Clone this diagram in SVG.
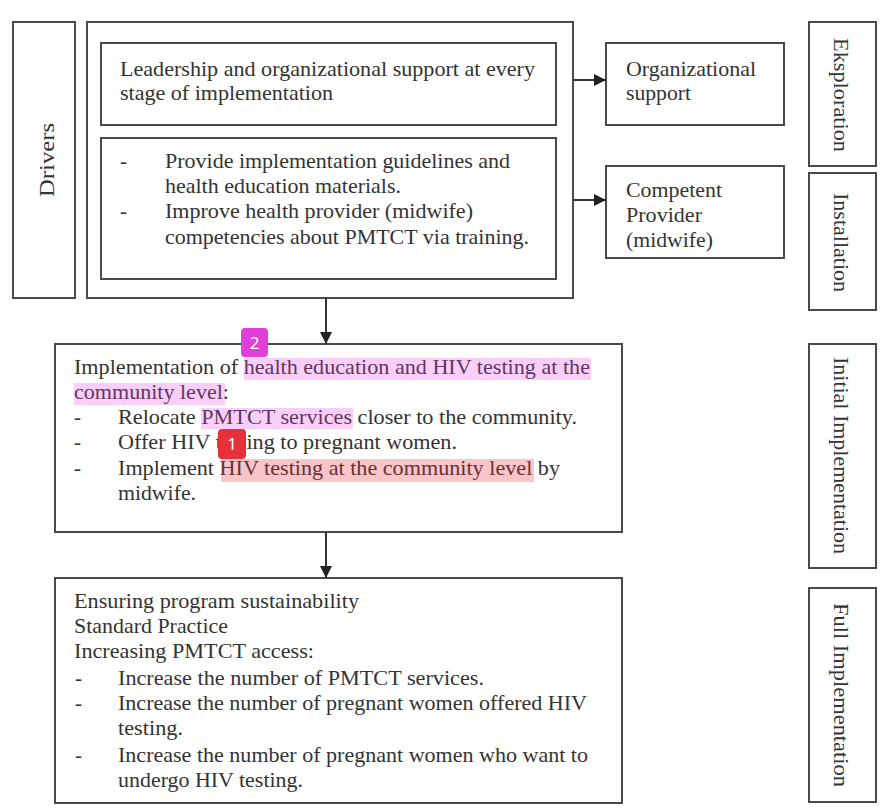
<svg xmlns="http://www.w3.org/2000/svg" width="881" height="809" viewBox="0 0 881 809">
<defs>
<style>
.box{fill:none;stroke:#4a4a4a;stroke-width:2}
.t{font-family:'Liberation Serif','Times New Roman',serif;font-size:21px;fill:#333}
.con{stroke:#333;stroke-width:2;fill:none}
.hlm{fill:#e83ee8;opacity:0.25}
.hlr{fill:#e8303a;opacity:0.28}
.badge{font-family:'Noto Sans','Liberation Sans',sans-serif;font-size:17px;fill:#fff;text-anchor:middle}
</style>
<marker id="ah" markerWidth="12" markerHeight="12" refX="12" refY="6" orient="auto" markerUnits="userSpaceOnUse">
<path d="M0,0 L12,6 L0,12 Z" fill="#222"/>
</marker>
</defs>
<rect width="881" height="809" fill="#fff"/>

<g id="drivers">
<rect class="box" x="13" y="22" width="62" height="276"/>
<text class="t" transform="translate(54,197) rotate(-90)" textLength="74" lengthAdjust="spacingAndGlyphs">Drivers</text>
</g>

<g id="drivers-group">
<rect class="box" x="87" y="22" width="486" height="276"/>
</g>

<g id="leadership">
<rect class="box" x="101" y="43" width="455" height="82"/>
<text class="t" x="120" y="76" textLength="415" lengthAdjust="spacingAndGlyphs">Leadership and organizational support at every</text>
<text class="t" x="120" y="100" textLength="213" lengthAdjust="spacingAndGlyphs">stage of implementation</text>
</g>

<g id="guidelines">
<rect class="box" x="101" y="138" width="455" height="141"/>
<text class="t" x="120" y="168">-</text>
<text class="t" x="165" y="168" textLength="345" lengthAdjust="spacingAndGlyphs">Provide implementation guidelines and</text>
<text class="t" x="165" y="193" textLength="236" lengthAdjust="spacingAndGlyphs">health education materials.</text>
<text class="t" x="120" y="218">-</text>
<text class="t" x="165" y="218" textLength="308" lengthAdjust="spacingAndGlyphs">Improve health provider (midwife)</text>
<text class="t" x="165" y="244" textLength="364" lengthAdjust="spacingAndGlyphs">competencies about PMTCT via training.</text>
</g>

<g id="org-support">
<rect class="box" x="606" y="43" width="178" height="82"/>
<text class="t" x="626" y="76" textLength="130" lengthAdjust="spacingAndGlyphs">Organizational</text>
<text class="t" x="626" y="100" textLength="65" lengthAdjust="spacingAndGlyphs">support</text>
</g>

<g id="competent-provider">
<rect class="box" x="606" y="166" width="178" height="92"/>
<text class="t" x="626" y="197" textLength="96" lengthAdjust="spacingAndGlyphs">Competent</text>
<text class="t" x="626" y="222" textLength="76" lengthAdjust="spacingAndGlyphs">Provider</text>
<text class="t" x="626" y="247" textLength="87" lengthAdjust="spacingAndGlyphs">(midwife)</text>
</g>

<g id="eksploration">
<rect class="box" x="809" y="22" width="67" height="144"/>
<text class="t" transform="translate(834,38) rotate(90)" textLength="114" lengthAdjust="spacingAndGlyphs">Eksploration</text>
</g>

<g id="installation">
<rect class="box" x="809" y="173" width="67" height="137"/>
<text class="t" transform="translate(834,193) rotate(90)" textLength="99" lengthAdjust="spacingAndGlyphs">Installation</text>
</g>

<g id="initial-implementation">
<rect class="box" x="809" y="344" width="67" height="224"/>
<text class="t" transform="translate(834,357) rotate(90)" textLength="197" lengthAdjust="spacingAndGlyphs">Initial Implementation</text>
</g>

<g id="full-implementation">
<rect class="box" x="809" y="588" width="67" height="214"/>
<text class="t" transform="translate(834,603) rotate(90)" textLength="184" lengthAdjust="spacingAndGlyphs">Full Implementation</text>
</g>

<g id="implementation">
<rect class="box" x="55" y="344" width="567" height="188"/>
<text class="t" x="74" y="374" textLength="516" lengthAdjust="spacingAndGlyphs">Implementation of health education and HIV testing at the</text>
<text class="t" x="74" y="399" textLength="155" lengthAdjust="spacingAndGlyphs">community level:</text>
<text class="t" x="74" y="424">-</text>
<text class="t" x="118" y="424" textLength="459" lengthAdjust="spacingAndGlyphs">Relocate PMTCT services closer to the community.</text>
<text class="t" x="74" y="449">-</text>
<text class="t" x="118" y="449" textLength="339" lengthAdjust="spacingAndGlyphs">Offer HIV testing to pregnant women.</text>
<text class="t" x="74" y="475">-</text>
<text class="t" x="118" y="475" textLength="442" lengthAdjust="spacingAndGlyphs">Implement HIV testing at the community level by</text>
<text class="t" x="118" y="500" textLength="78" lengthAdjust="spacingAndGlyphs">midwife.</text>
<rect class="hlm" x="244" y="358" width="347" height="22"/>
<rect class="hlm" x="74" y="383" width="151" height="22"/>
<rect class="hlm" x="201" y="408" width="152" height="21"/>
<rect class="hlr" x="221" y="459" width="313" height="23"/>
</g>

<g id="sustainability">
<rect class="box" x="55" y="578" width="567" height="225"/>
<text class="t" x="74" y="608" textLength="285" lengthAdjust="spacingAndGlyphs">Ensuring program sustainability</text>
<text class="t" x="74" y="633" textLength="154" lengthAdjust="spacingAndGlyphs">Standard Practice</text>
<text class="t" x="74" y="658" textLength="240" lengthAdjust="spacingAndGlyphs">Increasing PMTCT access:</text>
<text class="t" x="75" y="685">-</text>
<text class="t" x="118" y="685" textLength="366" lengthAdjust="spacingAndGlyphs">Increase the number of PMTCT services.</text>
<text class="t" x="75" y="710">-</text>
<text class="t" x="118" y="710" textLength="469" lengthAdjust="spacingAndGlyphs">Increase the number of pregnant women offered HIV</text>
<text class="t" x="118" y="735" textLength="65" lengthAdjust="spacingAndGlyphs">testing.</text>
<text class="t" x="75" y="762">-</text>
<text class="t" x="118" y="762" textLength="470" lengthAdjust="spacingAndGlyphs">Increase the number of pregnant women who want to</text>
<text class="t" x="118" y="787" textLength="185" lengthAdjust="spacingAndGlyphs">undergo HIV testing.</text>
</g>

<g id="connectors">
<line class="con" x1="573" y1="80" x2="606" y2="80" marker-end="url(#ah)"/>
<line class="con" x1="573" y1="200" x2="606" y2="200" marker-end="url(#ah)"/>
<line class="con" x1="326" y1="298" x2="326" y2="344" marker-end="url(#ah)"/>
<line class="con" x1="326" y1="532" x2="326" y2="578" marker-end="url(#ah)"/>
</g>

<g id="badges">
<rect x="241" y="328" width="27" height="29" rx="4" fill="#e23fd9"/>
<text class="badge" x="254.5" y="349">2</text>
<rect x="218" y="429" width="28" height="30" rx="4" fill="#e8303a"/>
<text class="badge" x="232" y="450">1</text>
</g>
</svg>
